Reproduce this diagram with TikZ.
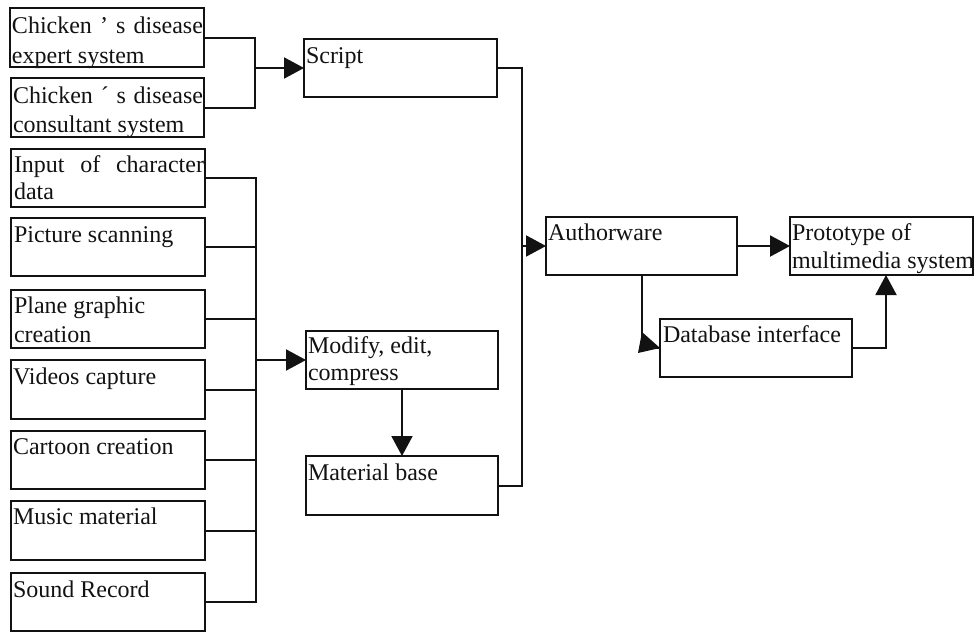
\documentclass[tikz,border=0pt]{standalone}
\usepackage{fontspec}
\setmainfont{Liberation Serif}
\usetikzlibrary{arrows.meta}
\tikzset{
  x=1pt,y=-1pt,
  boxnode/.style={draw=ink,line width=2pt,anchor=north west,inner sep=0pt,outer sep=0pt},
  lbl/.style={anchor=base west,inner sep=0pt,outer sep=0pt,text=ink,font=\fontsize{24}{28}\selectfont},
  conn/.style={draw=ink,line width=2pt},
  arr/.style={conn,-{Triangle[length=20pt,width=21pt]}},
}
\definecolor{ink}{gray}{0.07}
\newcommand{\bx}[5]{\node[boxnode,minimum width=#4pt,minimum height=#5pt] (#1) at (#2,#3) {};}
\begin{document}
\begin{tikzpicture}
\useasboundingbox (0,0) rectangle (974,632);
% left column
\bx{a}{10}{8}{194}{59}
\bx{b}{11}{78}{193}{59}
\bx{c}{11}{149}{194}{58}
\bx{d}{11}{218}{194}{58}
\bx{e}{11}{290}{194}{58}
\bx{f}{11}{360}{194}{59}
\bx{g}{11}{431}{194}{58}
\bx{h}{11}{501}{194}{59}
\bx{i}{11}{573}{194}{58}
% middle
\bx{script}{304}{39}{193}{58}
\bx{modify}{306}{331}{192}{58}
\bx{material}{306}{456}{192}{59}
% right
\bx{auth}{546}{217}{191}{58}
\bx{proto}{790}{217}{183}{58}
\bx{db}{660}{319}{192}{58}
% labels
\node[lbl] (a1) at (12,33) {\makebox[191pt][s]{Chicken ’ s disease}};
\node[lbl] (a2) at (12,63) {expert system};
\node[lbl] (b1) at (13,103) {\makebox[190pt][s]{Chicken ´ s disease}};
\node[lbl] (b2) at (13,132) {consultant system};
\node[lbl] (c1) at (14,172) {\makebox[190pt][s]{Input of character}};
\node[lbl] (c2) at (14,199) {data};
\node[lbl] (d1) at (14,242) {Picture scanning};
\node[lbl] (e1) at (14,313) {Plane graphic};
\node[lbl] (e2) at (14,342) {creation};
\node[lbl] (f1) at (13,384) {Videos capture};
\node[lbl] (g1) at (13,454) {Cartoon creation};
\node[lbl] (h1) at (13,524) {Music material};
\node[lbl] (i1) at (13,597) {Sound Record};
\node[lbl] (s1) at (306,63) {Script};
\node[lbl] (m1) at (308,353) {Modify, edit,};
\node[lbl] (m2) at (308,380) {compress};
\node[lbl] (n1) at (308,480) {Material base};
\node[lbl] (u1) at (548,240) {Authorware};
\node[lbl] (p1) at (792,240) {Prototype of};
\node[lbl] (p2) at (792,268) {multimedia system};
\node[lbl] (x1) at (663,342) {Database interface};
% junctions
\coordinate (j1) at (255,0 |- script.west);
\coordinate (j2) at (256,0 |- modify.west);
\coordinate (j3) at (522,0 |- auth.west);
% connectors
\draw[conn] (a.east) -| (j1);
\draw[conn] (b.east) -| (j1);
\draw[arr] (j1) -- (script.west);
\foreach \n in {c,d,e,f,g,h,i}{\draw[conn] (\n.east) -| (j2);}
\draw[arr] (j2) -- (modify.west);
\draw[arr] (modify.south) -- (material.north);
\draw[conn] (script.east) -| (j3);
\draw[conn] (material.east) -| (j3);
\draw[arr] (j3) -- (auth.west);
\draw[arr] (auth.east) -- (proto.west);
\draw[conn] (auth.south) |- (db.west);
\fill[ink] (db.west) -- ++(-18,-16) -- ++(-4,21) -- cycle;
\draw[arr] (db.east) -| ([xshift=4.5pt]proto.south);
\end{tikzpicture}
\end{document}
